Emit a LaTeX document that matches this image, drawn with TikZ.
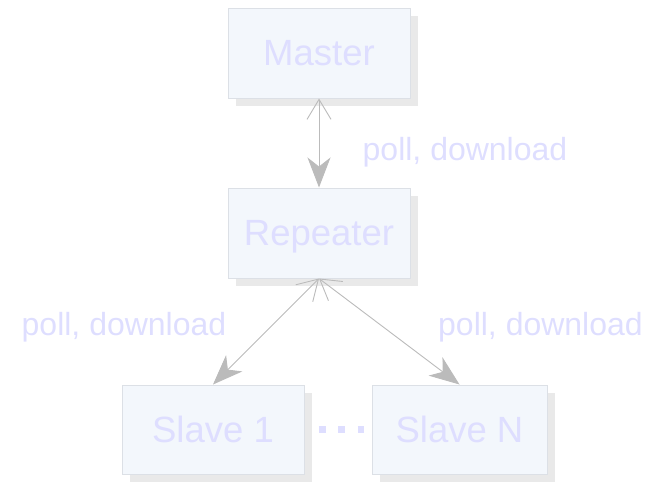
\documentclass[tikz,border=0pt]{standalone}
\usepackage{fontspec}
\setmainfont{Liberation Sans}
\usetikzlibrary{arrows.meta}
\definecolor{boxfill}{HTML}{F3F7FC}
\definecolor{boxline}{HTML}{DCE0E6}
\definecolor{shadowc}{HTML}{E9E9E9}
\definecolor{txtc}{HTML}{DEDEFF}
\definecolor{linec}{HTML}{BBBBBB}
\tikzset{
  box/.style={draw=boxline, fill=boxfill, line width=1pt, text=txtc,
    font=\fontsize{36.5}{40}\selectfont, inner sep=0pt,
    text height=25pt, text depth=0pt,
    minimum width=182pt, minimum height=90pt,
    preaction={draw=none, fill=shadowc, transform canvas={shift={(8pt,-8pt)}}}},
  lbl/.style={text=txtc, font=\fontsize{32}{36}\selectfont, inner sep=0pt, anchor=base},
  link/.style={draw=linec, line width=0.9pt,
    {Straight Barb[length=20pt,width=24pt,line width=0.9pt]}-{Stealth[length=30pt,width=23pt,inset=9pt]}},
}
\begin{document}
\begin{tikzpicture}[x=1pt,y=-1pt]
\useasboundingbox (0,0) rectangle (654,482);
\node[box] (master) at (319,53) {Master};
\node[box] (rep) at (319,233) {Repeater};
\node[box, minimum height=89pt] (s1) at (213,429.5) {Slave 1};
\node[box, minimum width=175pt, minimum height=89pt] (sn) at (459.5,429.5) {Slave N};
\draw[link] (master.south) -- (rep.north);
\draw[link] (rep.south) -- (s1.north);
\draw[link] (rep.south) -- (sn.north);
\draw[draw=txtc, line width=7pt, dash pattern=on 7pt off 12.5pt, shorten <=14pt, shorten >=8pt] (s1.east) -- (sn.west);
\node[lbl] (l1) at (465,160) {poll, download};
\node[lbl] (l2) at (124,335) {poll, download};
\node[lbl] (l3) at (540.5,335) {poll, download};
\end{tikzpicture}
\end{document}
